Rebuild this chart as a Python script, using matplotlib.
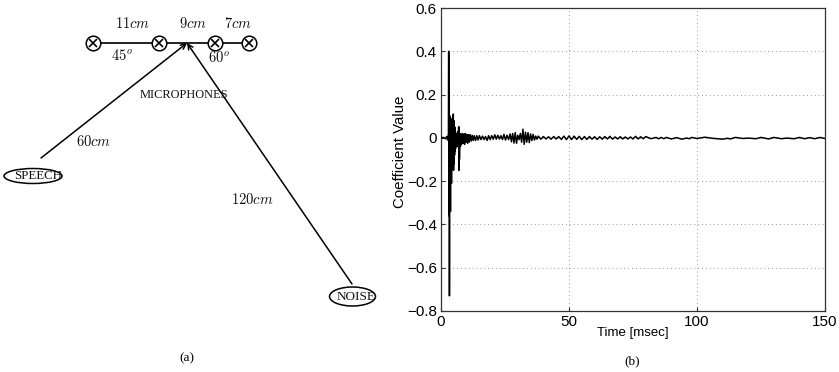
import matplotlib
matplotlib.use("Agg")
import matplotlib.pyplot as plt
from matplotlib.patches import Ellipse

W, H = 839, 372

# coefficient trace
time_ms = [0, 1, 1.8, 2.2, 2.6, 2.9, 3.0, 3.1, 3.2, 3.3, 3.4, 3.5, 3.6, 3.7, 3.8, 3.9, 4.0, 4.1, 4.2, 4.3,
           4.4, 4.5, 4.6, 4.7, 4.8, 4.9, 5.0, 5.1, 5.2, 5.3, 5.4, 5.5, 5.6, 5.7, 5.8, 6.0, 6.2, 6.4, 6.6,
           6.8, 6.9, 7.0, 7.1, 7.2, 7.4, 7.6, 7.8, 8.0, 8.3, 8.6, 8.9, 9.2, 9.5, 9.8, 10.1, 10.4, 10.7,
           11.0, 11.4, 11.8, 12.2, 12.6, 13.0, 13.5, 14.0, 14.5, 15.0, 15.6, 16.2, 16.8, 17.4, 18.0, 18.6,
           19.2, 19.8, 20.4, 21.0, 21.6, 22.2, 22.8, 23.4, 24.0, 24.6, 25.2, 25.8, 26.4, 27.0, 27.5, 28.0,
           28.5, 29.0, 29.5, 30.0, 30.5, 31.0, 31.5, 32.0, 32.5, 33.0, 33.5, 34.0, 34.5, 35.0, 35.5, 36.0,
           36.5, 37.0, 37.5, 38.0, 39.0, 40.0, 41.0, 42.0, 43.0, 44.0, 45.0, 46.0, 47.0, 48.0, 49.0, 50.0,
           51.0, 52.0, 53.0, 54.0, 55.0, 56.0, 57.0, 58.0, 59.0, 60.0, 61.0, 62.0, 63.0, 64.0, 65.0, 66.0,
           67.0, 68.0, 69.0, 70.0, 71.0, 72.0, 73.0, 74.0, 75.0, 76.0, 77.0, 78.0, 79.0, 80.0, 82.0, 84.0,
           85.0, 86.0, 87.0, 88.0, 90.0, 92.0, 94.0, 96.0, 97.0, 98.0, 100.0, 103.0, 106.0, 108.0, 110.0,
           112.0, 113.0, 115.0, 118.0, 120.0, 123.0, 125.0, 128.0, 130.0, 133.0, 135.0, 138.0, 140.0, 142.0,
           144.0, 146.0, 148.0, 150.0]
coef = [0, 0.002, -0.004, 0.006, -0.01, 0.02, 0.40, -0.36, 0.38, -0.73, 0.1, -0.30, 0.10, -0.34, 0.09,
        -0.21, 0.07, -0.21, 0.08, -0.13, 0.06, -0.14, 0.09, -0.11, 0.11, -0.15, 0.08, -0.12, 0.04,
        -0.08, 0.05, -0.06, 0.03, -0.05, 0.02, -0.03, 0.02, -0.04, 0.03, -0.04, 0.05, -0.15, 0.05, -0.10,
        0.02, -0.04, 0.015, -0.03, 0.02, -0.025, 0.018, -0.03, 0.02, -0.02, 0.015, -0.025, 0.015,
        -0.02, 0.015, -0.015, 0.012, -0.012, 0.01, -0.012, 0.01, -0.01, 0.01, -0.008, 0.008, -0.008,
        0.006, -0.012, 0.01, -0.008, 0.01, -0.006, 0.014, -0.006, 0.012, -0.005, 0.01, -0.008, 0.016,
        -0.01, 0.012, -0.008, 0.018, -0.018, 0.02, -0.024, 0.024, -0.025, 0.012, -0.008, 0.02, -0.02,
        0.04, -0.03, 0.026, -0.02, 0.024, -0.022, 0.018, -0.012, 0.016, -0.01, 0.008, -0.006, 0.008,
        -0.006, 0.006, -0.005, 0.005, -0.006, 0.006, -0.005, 0.006, -0.007, 0.008, -0.008, 0.009,
        -0.008, 0.008, -0.007, 0.007, -0.008, 0.006, -0.007, 0.006, -0.006, 0.005, -0.007, 0.005,
        -0.006, 0.006, -0.005, 0.007, -0.006, 0.004, -0.005, 0.005, -0.005, 0.004, -0.005, 0.004,
        -0.005, 0.007, -0.005, 0.005, -0.004, 0.006, -0.004, 0.002, -0.004, 0.002, -0.004, 0.002,
        -0.005, 0.001, -0.006, -0.001, -0.004, 0.002, -0.003, 0.003, -0.002, -0.004, -0.006, -0.002,
        -0.005, 0.002, -0.003, -0.001, -0.004, 0.002, -0.005, 0.002, -0.004, -0.001, -0.004, 0.002,
        -0.004, 0.001, -0.004, 0.002, -0.003]

x_ticks = [0, 50, 100, 150]
y_ticks = [-0.8, -0.6, -0.4, -0.2, 0, 0.2, 0.4, 0.6]
y_tick_labels = ["\u22120.8", "\u22120.6", "\u22120.4", "\u22120.2", "0", "0.2", "0.4", "0.6"]

# panel (a) layout in picture pixels
mic_x = [92.5, 159, 215, 249]
mic_y = 43
focus = (187, 43)
speech_start = (41, 158)
noise_start = (352, 284)
dist_labels = [("$11cm$", 133, 24), ("$9cm$", 192.5, 24), ("$7cm$", 238, 24),
               ("$45^o$", 122, 55), ("$60^o$", 219, 57), ("$60cm$", 94, 141), ("$120cm$", 252, 200)]

plt.rcParams["font.family"] = ["Liberation Sans", "DejaVu Sans"]
plt.rcParams["mathtext.fontset"] = "cm"

fig = plt.figure(figsize=(W / 100, H / 100), dpi=100)

# --- (a) diagram
pan = fig.add_axes([0, 0, 1, 1])
pan.set_xlim(0, W); pan.set_ylim(H, 0); pan.axis("off")
pan.plot([mic_x[0], mic_x[-1]], [mic_y, mic_y], color="#222222", lw=1.4, zorder=2)
for mx in mic_x:
    pan.plot([mx], [mic_y], marker="o", ms=10.5, mfc="white", mec="black", mew=1.1, zorder=3)
    pan.plot([mx], [mic_y], marker="x", ms=6, mec="black", mew=1.2, zorder=4)
for start in (speech_start, noise_start):
    pan.annotate("", xy=focus, xytext=start,
                 arrowprops=dict(arrowstyle="->", color="black", lw=1.1, shrinkA=0, shrinkB=0, mutation_scale=9))
pan.add_patch(Ellipse((33, 176), 58, 15, fc="none", ec="black", lw=1.1))
pan.add_patch(Ellipse((352.5, 296.5), 46, 19, fc="none", ec="black", lw=1.1))
pan.text(38, 176, "SPEECH", family="Liberation Serif", fontsize=9.3, ha="center", va="center", color="#111111")
pan.text(356, 296.5, "NOISE", family="Liberation Serif", fontsize=9.5, ha="center", va="center", color="#111111")
pan.text(184, 94.5, "MICROPHONES", family="Liberation Serif", fontsize=8.9, ha="center", va="center", color="#111111")
for txt, lx, ly in dist_labels:
    pan.text(lx, ly, txt, fontsize=10.5, ha="center", va="center", color="#111111")
pan.text(187, 358, "(a)", family="Liberation Serif", fontsize=9.5, ha="center", va="center")
pan.text(632, 361, "(b)", family="Liberation Serif", fontsize=9.5, ha="center", va="center")

# --- (b) coefficient plot
ax = fig.add_axes([441 / W, 1 - 311 / H, (825 - 441) / W, (311 - 8) / H])
ax.plot(time_ms, coef, color="black", lw=1.1, zorder=3)
ax.set_xlim(0, 150); ax.set_ylim(-0.8, 0.6)
ax.set_xticks(x_ticks)
ax.set_yticks(y_ticks); ax.set_yticklabels(y_tick_labels)
ax.tick_params(direction="in", length=3, width=0.8, labelsize=11, pad=3, color="#333333")
ax.grid(True, color="#999999", linestyle=(0, (1, 3)), linewidth=0.7)
ax.set_axisbelow(True)
ax.set_xlabel("Time [msec]", fontsize=9.5)
ax.set_ylabel("Coefficient Value", fontsize=10.8)
ax.xaxis.set_label_coords(0.5, -0.053)
ax.yaxis.set_label_coords(-0.0885, 0.525)
for s in ax.spines.values():
    s.set_color("#333333"); s.set_linewidth(0.9)

fig.savefig("out.png", dpi=100)
